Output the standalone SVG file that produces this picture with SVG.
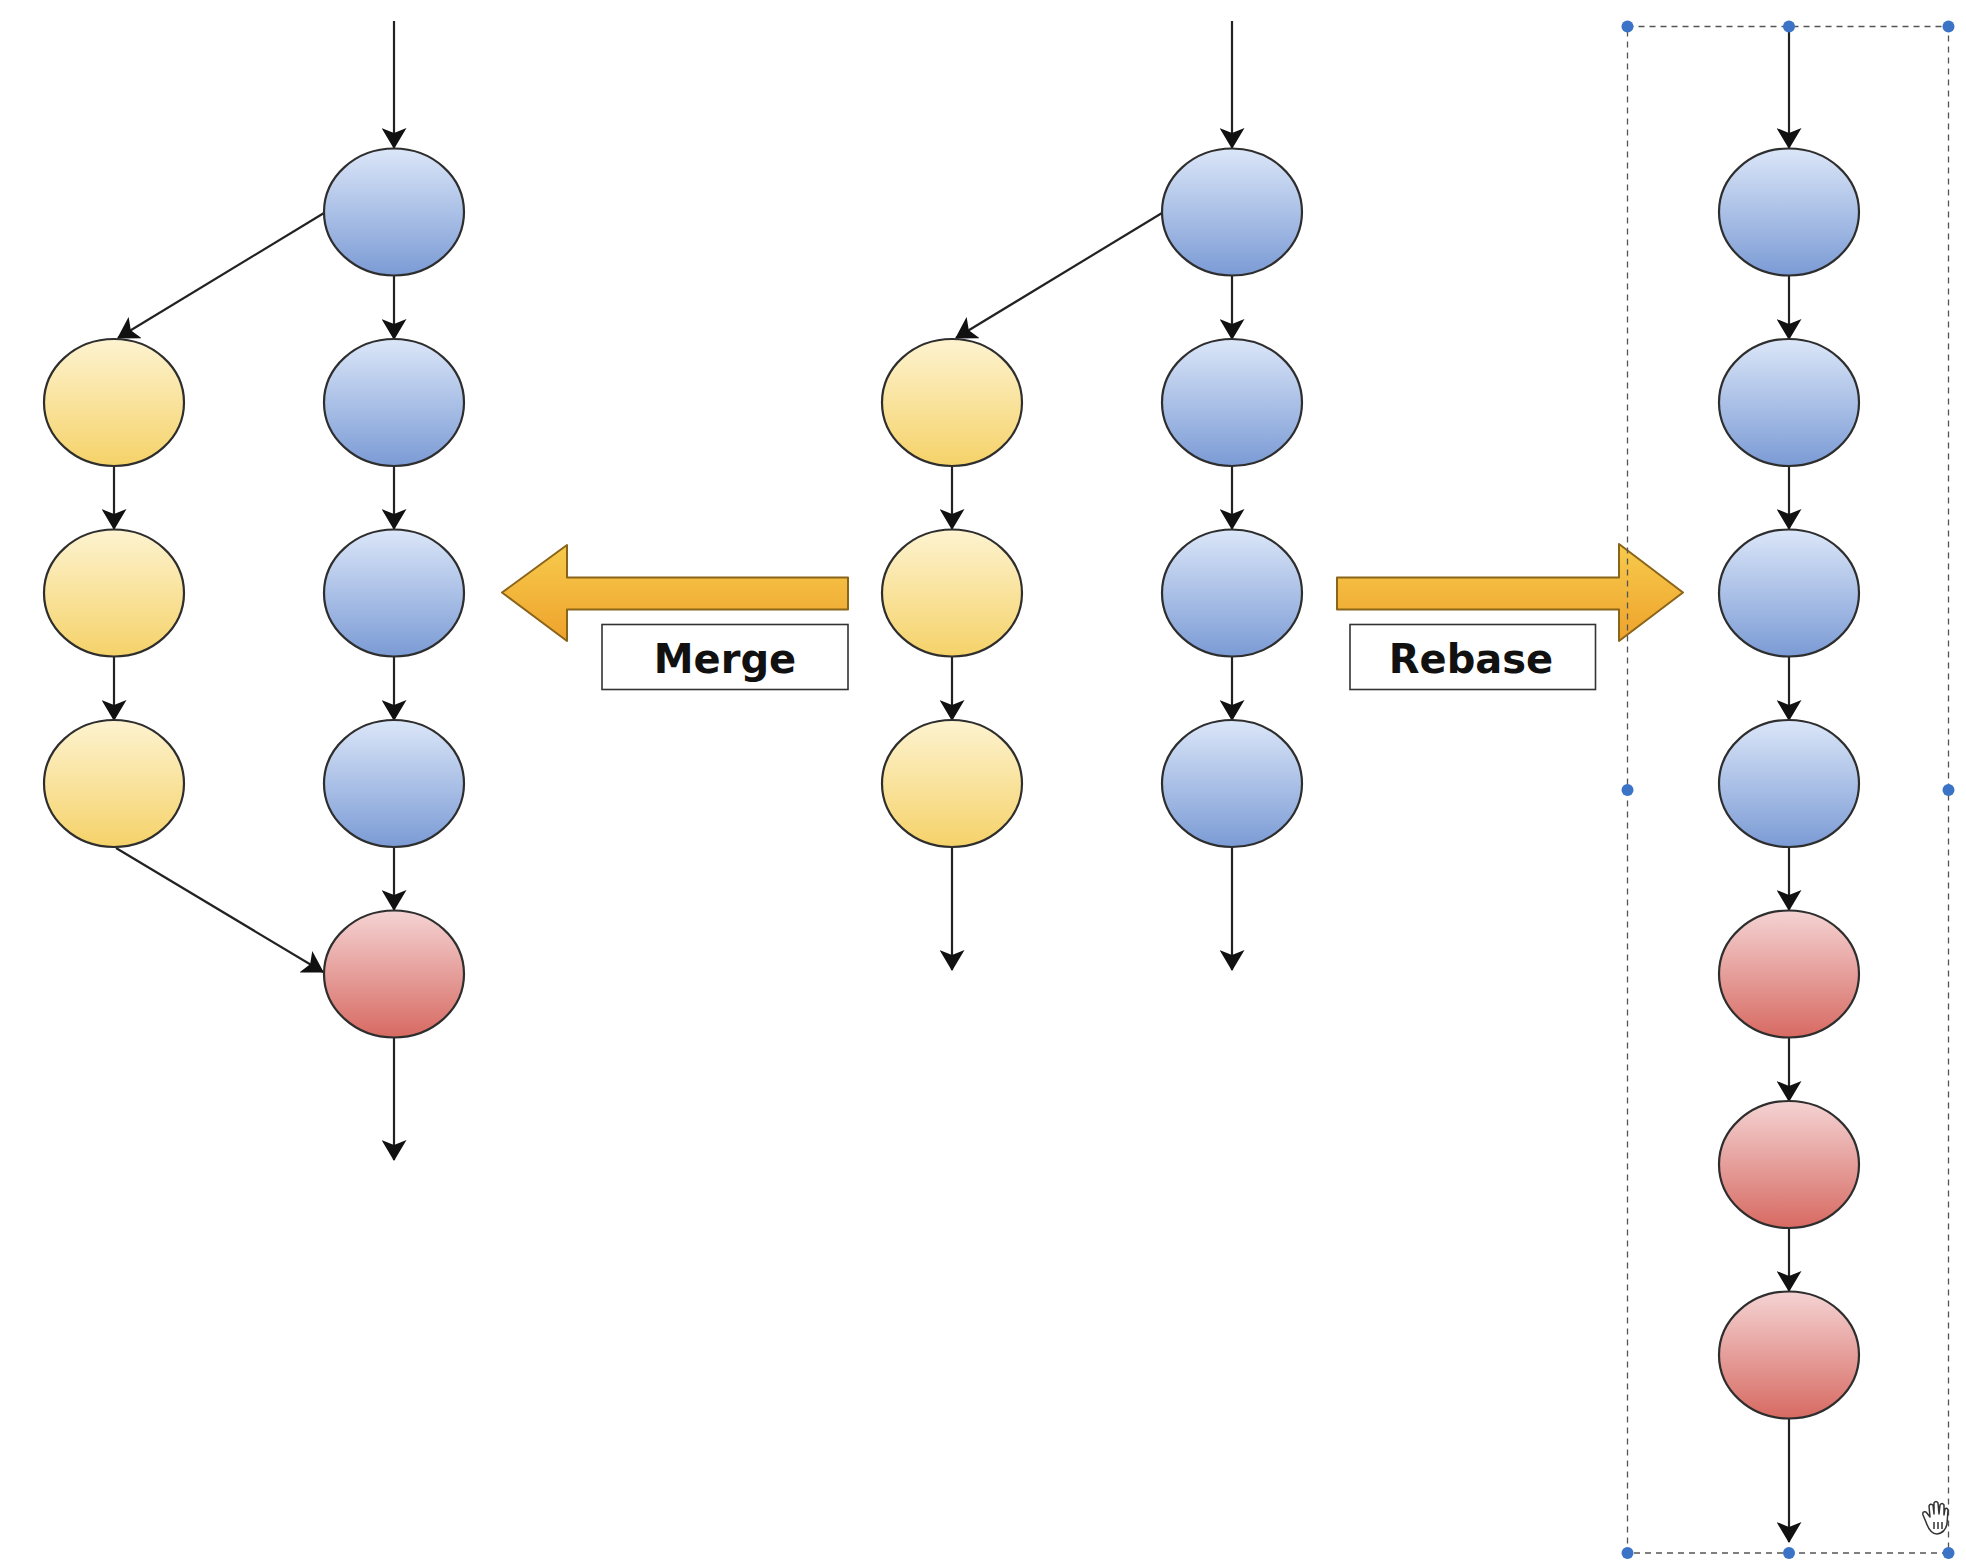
<svg xmlns="http://www.w3.org/2000/svg" width="1966" height="1564" viewBox="0 0 1966 1564">
<defs>
  <linearGradient id="gBlue" x1="0" y1="0" x2="0" y2="1">
    <stop offset="0" stop-color="#dbe6f8"/>
    <stop offset="1" stop-color="#7b9bd5"/>
  </linearGradient>
  <linearGradient id="gYellow" x1="0" y1="0" x2="0" y2="1">
    <stop offset="0" stop-color="#fdf3d0"/>
    <stop offset="1" stop-color="#f5d269"/>
  </linearGradient>
  <linearGradient id="gRed" x1="0" y1="0" x2="0" y2="1">
    <stop offset="0" stop-color="#f4d3d3"/>
    <stop offset="1" stop-color="#d76a62"/>
  </linearGradient>
  <linearGradient id="gOrange" x1="0" y1="0" x2="0" y2="1">
    <stop offset="0" stop-color="#f7cb4c"/>
    <stop offset="1" stop-color="#eea22c"/>
  </linearGradient>
  <marker id="arr" markerUnits="userSpaceOnUse" markerWidth="21" markerHeight="25" viewBox="0 0 21 25" refX="20" refY="12.5" orient="auto">
    <path d="M0,0 L21,12.5 L0,25 L5,12.5 z" fill="#111"/>
  </marker>
  <style>
    .blue { fill: url(#gBlue); stroke: #2e2e2e; stroke-width: 2.2; }
    .yellow { fill: url(#gYellow); stroke: #2e2e2e; stroke-width: 2.2; }
    .red { fill: url(#gRed); stroke: #2e2e2e; stroke-width: 2.2; }
    .edge { stroke: #222; stroke-width: 2.2; fill: none; marker-end: url(#arr); }
    .fat { fill: url(#gOrange); stroke: #8a6418; stroke-width: 2; stroke-linejoin: round; }
    .lbox { fill: #fff; stroke: #333; stroke-width: 1.6; }
    .ltxt { font-family: "DejaVu Sans", Verdana, sans-serif; font-weight: bold; font-size: 40px; fill: #111; text-anchor: middle; }
    .sel { fill: none; stroke: #555; stroke-width: 1.3; stroke-dasharray: 6 5; }
    .handle { fill: #3b73c6; }
  </style>
</defs>
<rect width="1966" height="1564" fill="#fff"/>

<!-- Connectors -->
<g id="connectors">
  <!-- left: merge result -->
  <line class="edge" x1="394" y1="21" x2="394" y2="148"/>
  <line class="edge" x1="394" y1="276" x2="394" y2="339"/>
  <line class="edge" x1="394" y1="466" x2="394" y2="529"/>
  <line class="edge" x1="394" y1="657" x2="394" y2="720"/>
  <line class="edge" x1="394" y1="847" x2="394" y2="910"/>
  <line class="edge" x1="394" y1="1038" x2="394" y2="1160"/>
  <line class="edge" x1="324" y1="213" x2="118" y2="338"/>
  <line class="edge" x1="114" y1="466" x2="114" y2="529"/>
  <line class="edge" x1="114" y1="657" x2="114" y2="720"/>
  <line class="edge" x1="116" y1="848" x2="323" y2="972"/>
  <!-- middle: original branches -->
  <line class="edge" x1="1232" y1="21" x2="1232" y2="148"/>
  <line class="edge" x1="1232" y1="276" x2="1232" y2="339"/>
  <line class="edge" x1="1232" y1="466" x2="1232" y2="529"/>
  <line class="edge" x1="1232" y1="657" x2="1232" y2="720"/>
  <line class="edge" x1="1232" y1="847" x2="1232" y2="970"/>
  <line class="edge" x1="1162" y1="213" x2="956" y2="338"/>
  <line class="edge" x1="952" y1="466" x2="952" y2="529"/>
  <line class="edge" x1="952" y1="657" x2="952" y2="720"/>
  <line class="edge" x1="952" y1="847" x2="952" y2="970"/>
  <!-- right: rebase result -->
  <line class="edge" x1="1789" y1="26" x2="1789" y2="148"/>
  <line class="edge" x1="1789" y1="276" x2="1789" y2="339"/>
  <line class="edge" x1="1789" y1="466" x2="1789" y2="529"/>
  <line class="edge" x1="1789" y1="657" x2="1789" y2="720"/>
  <line class="edge" x1="1789" y1="847" x2="1789" y2="910"/>
  <line class="edge" x1="1789" y1="1038" x2="1789" y2="1101"/>
  <line class="edge" x1="1789" y1="1228" x2="1789" y2="1291"/>
  <line class="edge" x1="1789" y1="1419" x2="1789" y2="1542"/>
</g>

<!-- Left column (merge) -->
<g id="L-b1"><ellipse class="blue" cx="394" cy="212" rx="70" ry="63.5"/></g>
<g id="L-b2"><ellipse class="blue" cx="394" cy="402.5" rx="70" ry="63.5"/></g>
<g id="L-b3"><ellipse class="blue" cx="394" cy="593" rx="70" ry="63.5"/></g>
<g id="L-b4"><ellipse class="blue" cx="394" cy="783.5" rx="70" ry="63.5"/></g>
<g id="L-r1"><ellipse class="red" cx="394" cy="974" rx="70" ry="63.5"/></g>
<g id="L-y1"><ellipse class="yellow" cx="114" cy="402.5" rx="70" ry="63.5"/></g>
<g id="L-y2"><ellipse class="yellow" cx="114" cy="593" rx="70" ry="63.5"/></g>
<g id="L-y3"><ellipse class="yellow" cx="114" cy="783.5" rx="70" ry="63.5"/></g>

<!-- Middle column (original) -->
<g id="M-b1"><ellipse class="blue" cx="1232" cy="212" rx="70" ry="63.5"/></g>
<g id="M-b2"><ellipse class="blue" cx="1232" cy="402.5" rx="70" ry="63.5"/></g>
<g id="M-b3"><ellipse class="blue" cx="1232" cy="593" rx="70" ry="63.5"/></g>
<g id="M-b4"><ellipse class="blue" cx="1232" cy="783.5" rx="70" ry="63.5"/></g>
<g id="M-y1"><ellipse class="yellow" cx="952" cy="402.5" rx="70" ry="63.5"/></g>
<g id="M-y2"><ellipse class="yellow" cx="952" cy="593" rx="70" ry="63.5"/></g>
<g id="M-y3"><ellipse class="yellow" cx="952" cy="783.5" rx="70" ry="63.5"/></g>

<!-- Right column (rebase) -->
<g id="R-b1"><ellipse class="blue" cx="1789" cy="212" rx="70" ry="63.5"/></g>
<g id="R-b2"><ellipse class="blue" cx="1789" cy="402.5" rx="70" ry="63.5"/></g>
<g id="R-b3"><ellipse class="blue" cx="1789" cy="593" rx="70" ry="63.5"/></g>
<g id="R-b4"><ellipse class="blue" cx="1789" cy="783.5" rx="70" ry="63.5"/></g>
<g id="R-r1"><ellipse class="red" cx="1789" cy="974" rx="70" ry="63.5"/></g>
<g id="R-r2"><ellipse class="red" cx="1789" cy="1164.5" rx="70" ry="63.5"/></g>
<g id="R-r3"><ellipse class="red" cx="1789" cy="1355" rx="70" ry="63.5"/></g>

<!-- Merge arrow + label -->
<g id="merge">
  <polygon class="fat" points="502,592.5 567,545 567,577.5 848,577.5 848,609.5 567,609.5 567,641"/>
  <rect class="lbox" x="602" y="624.5" width="246" height="65"/>
  <text class="ltxt" x="725" y="673">Merge</text>
</g>

<!-- Rebase arrow + label -->
<g id="rebase">
  <polygon class="fat" points="1337,577.5 1619,577.5 1619,544 1683,592.5 1619,641 1619,609.5 1337,609.5"/>
  <rect class="lbox" x="1350" y="624.5" width="245.5" height="65"/>
  <text class="ltxt" x="1471" y="673">Rebase</text>
</g>

<!-- Selection frame -->
<g id="selection">
  <rect class="sel" x="1627.5" y="26.5" width="321" height="1526.5"/>
</g>

<!-- Selection handles -->
<g id="handles">
  <circle class="handle" cx="1627.5" cy="26.5" r="6"/>
  <circle class="handle" cx="1789" cy="26.5" r="6"/>
  <circle class="handle" cx="1948.5" cy="26.5" r="6"/>
  <circle class="handle" cx="1627.5" cy="790" r="6"/>
  <circle class="handle" cx="1948.5" cy="790" r="6"/>
  <circle class="handle" cx="1627.5" cy="1553" r="6"/>
  <circle class="handle" cx="1789" cy="1553" r="6"/>
  <circle class="handle" cx="1948.5" cy="1553" r="6"/>
</g>

<!-- Hand cursor -->
<g id="cursor" fill="#fff" stroke="#333" stroke-width="1.5" stroke-linejoin="round">
  <path d="M1926,1522 L1923,1515 Q1922,1511 1926,1512 L1930,1517 L1929,1506 Q1930,1503 1933,1505 L1934,1514 L1934,1503 Q1936,1500 1938,1503 L1939,1514 L1940,1505 Q1942,1502 1944,1505 L1944,1515 L1945,1509 Q1947,1507 1948,1510 L1947,1524 Q1945,1533 1937,1534 Q1930,1534 1926,1522 z"/>
  <path d="M1934,1522 L1934,1529 M1938,1522 L1938,1529 M1942,1522 L1942,1529" fill="none"/>
</g>
</svg>
